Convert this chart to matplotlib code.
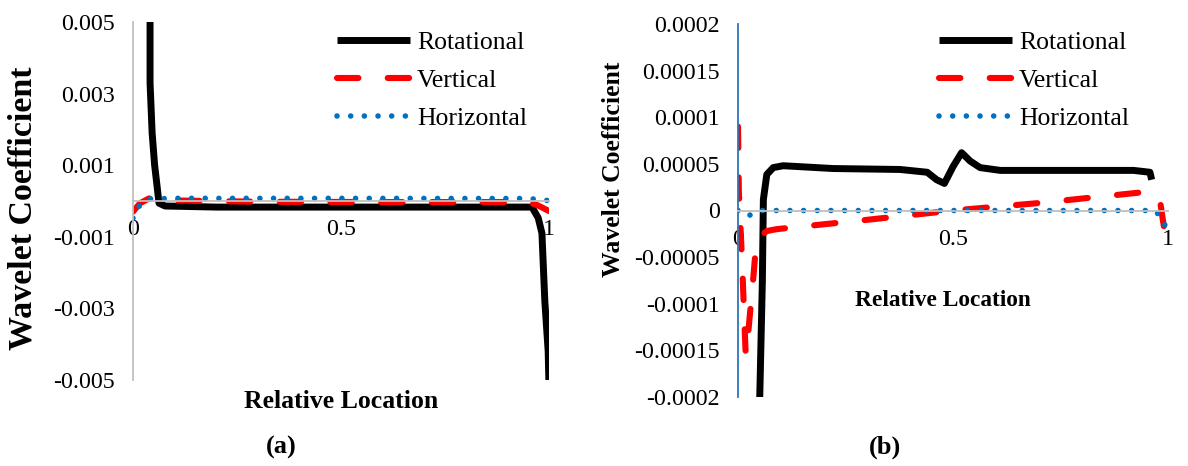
import matplotlib
matplotlib.use('Agg')
import matplotlib.pyplot as plt

plt.rcParams['font.family'] = ['Liberation Serif', 'DejaVu Serif']

# panel (a) values
rot_a_x = [0.040, 0.041, 0.041, 0.046, 0.052, 0.058, 0.0625, 0.077, 0.2, 0.5, 0.8, 0.959, 0.974, 0.983, 0.990, 0.998, 1.0]
rot_a_y = [0.0056, 0.005, 0.0033, 0.0019, 0.0010, 0.0004, -0.00006, -0.00014, -0.00017, -0.00017, -0.00017, -0.00017, -0.00047, -0.0009, -0.0028, -0.0042, -0.0052]

vert_a_x = [0.0, 0.017, 0.04, 0.07, 0.3, 0.6, 0.9, 0.95, 0.971, 1.0]
vert_a_y = [-0.0003, -0.00006, 0.00008, 0.00002, -0.00002, -0.00003, -0.00003, -0.00004, -0.00011, -0.00028]

hor_a_x = [0.0, 0.012, 0.04, 0.1, 0.5, 0.95, 0.986, 1.0]
hor_a_y = [-0.00048, -0.00017, 0.00006, 0.000075, 0.000075, 0.00007, 0.00003, 0.00001]

# panel (b) values
rot_b_x = [0.0496, 0.0566, 0.059, 0.067, 0.082, 0.105, 0.144, 0.221, 0.377, 0.44, 0.462, 0.48, 0.5, 0.52, 0.54, 0.563, 0.61, 0.92, 0.958, 0.962]
rot_b_y = [-0.00022, -0.000077, 0.0000118, 0.0000386, 0.000046, 0.000048, 0.000047, 0.000045, 0.000044, 0.000041, 0.000033, 0.000029, 0.000047, 0.000062, 0.000053, 0.000046, 0.000043, 0.000043, 0.000041, 0.000033]

vert_b_x = [0.0, 0.002, 0.006, 0.010, 0.014, 0.018, 0.024, 0.030, 0.036, 0.043, 0.067, 0.09, 0.3, 0.5, 0.7, 0.95, 0.981, 0.988, 1.0]
vert_b_y = [0.00009, 0.00002, -0.00002, -0.00006, -0.00011, -0.000155, -0.00013, -0.0001, -0.00007, -0.000031, -0.000022, -0.00002, -0.00001, 0.0, 0.000008, 0.00002, 0.000012, -0.00001, -0.000045]

hor_b_x = [0.0, 0.023, 0.05, 0.5, 0.97, 0.988, 1.0]
hor_b_y = [0.0, -0.000006, 0.0, 0.0, 0.0, -0.00001, -0.000024]

a_ticks = [0.005, 0.003, 0.001, -0.001, -0.003, -0.005]
a_labels = ['0.005', '0.003', '0.001', '-0.001', '-0.003', '-0.005']
b_ticks = [0.0002, 0.00015, 0.0001, 0.00005, 0, -0.00005, -0.0001, -0.00015, -0.0002]
b_labels = ['0.0002', '0.00015', '0.0001', '0.00005', '0', '-0.00005', '-0.0001', '-0.00015', '-0.0002']
x_ticks = [0, 0.5, 1]
x_labels = ['0', '0.5', '1']
names = ['Rotational', 'Vertical', 'Horizontal']

W, H = 1188, 466
fig = plt.figure(figsize=(W / 100, H / 100), dpi=100)


def px_axes(l, r, t, b):
    return fig.add_axes([l / W, 1 - b / H, (r - l) / W, (b - t) / H])


def style(ax, left_color, ticks, labels, ylim):
    ax.set_xlim(0, 1)
    ax.set_ylim(*ylim)
    ax.set_yticks(ticks)
    ax.set_yticklabels(labels)
    ax.set_xticks(x_ticks)
    ax.set_xticklabels(x_labels)
    ax.spines['top'].set_visible(False)
    ax.spines['right'].set_visible(False)
    ax.spines['bottom'].set_position(('data', 0))
    ax.spines['bottom'].set_color('#bfbfbf')
    ax.spines['bottom'].set_linewidth(1.3)
    ax.spines['left'].set_color(left_color)
    ax.spines['left'].set_linewidth(1.3)
    ax.tick_params(axis='both', length=0, labelsize=17.3)
    ax.tick_params(axis='y', pad=13)
    ax.tick_params(axis='x', pad=13)


def draw(ax, xs, ys):
    ax.plot(xs[0], ys[0], color='black', lw=5.0, solid_capstyle='butt', label=names[0])
    ax.plot(xs[1], ys[1], color='#ff0000', lw=4.4, linestyle=(0, (3.5, 4.8)),
            dash_capstyle='round', label=names[1])
    ax.plot(xs[2], ys[2], color='#0070c0', lw=4.0, linestyle=(0, (0.01, 2.45)),
            dash_capstyle='round', label=names[2])


def legend(ax, left):
    ax.legend(loc='upper left', bbox_to_anchor=(left / W, 1 - 31 / H), bbox_transform=fig.transFigure,
              frameon=False, fontsize=18.5, handlelength=2.84, handletextpad=0.27,
              borderpad=0, borderaxespad=0, labelspacing=0.58)


ax1 = px_axes(133, 549, 22, 380)
draw(ax1, [rot_a_x, vert_a_x, hor_a_x], [rot_a_y, vert_a_y, hor_a_y])
style(ax1, '#bfbfbf', a_ticks, a_labels, (-0.005, 0.005))
legend(ax1, 337)

ax2 = px_axes(738, 1168, 24, 397)
draw(ax2, [rot_b_x, vert_b_x, hor_b_x], [rot_b_y, vert_b_y, hor_b_y])
style(ax2, '#2e75b6', b_ticks, b_labels, (-0.0002, 0.0002))
legend(ax2, 939)

fig.text(23 / W, 1 - 208 / H, 'Wavelet Coefficient', rotation=90, fontsize=24.5,
         fontweight='bold', ha='center', va='center')
fig.text(613 / W, 1 - 169 / H, 'Wavelet Coefficient', rotation=90, fontsize=18.5,
         fontweight='bold', ha='center', va='center')
fig.text(341 / W, 1 - 401 / H, 'Relative Location', fontsize=18.5,
         fontweight='bold', ha='center', va='center')
fig.text(943 / W, 1 - 300 / H, 'Relative Location', fontsize=16.8,
         fontweight='bold', ha='center', va='center')
fig.text(281 / W, 1 - 447 / H, '(a)', fontsize=19, fontweight='bold', ha='center', va='center')
fig.text(885 / W, 1 - 447 / H, '(b)', fontsize=19, fontweight='bold', ha='center', va='center')

fig.savefig('out.png', dpi=100)
